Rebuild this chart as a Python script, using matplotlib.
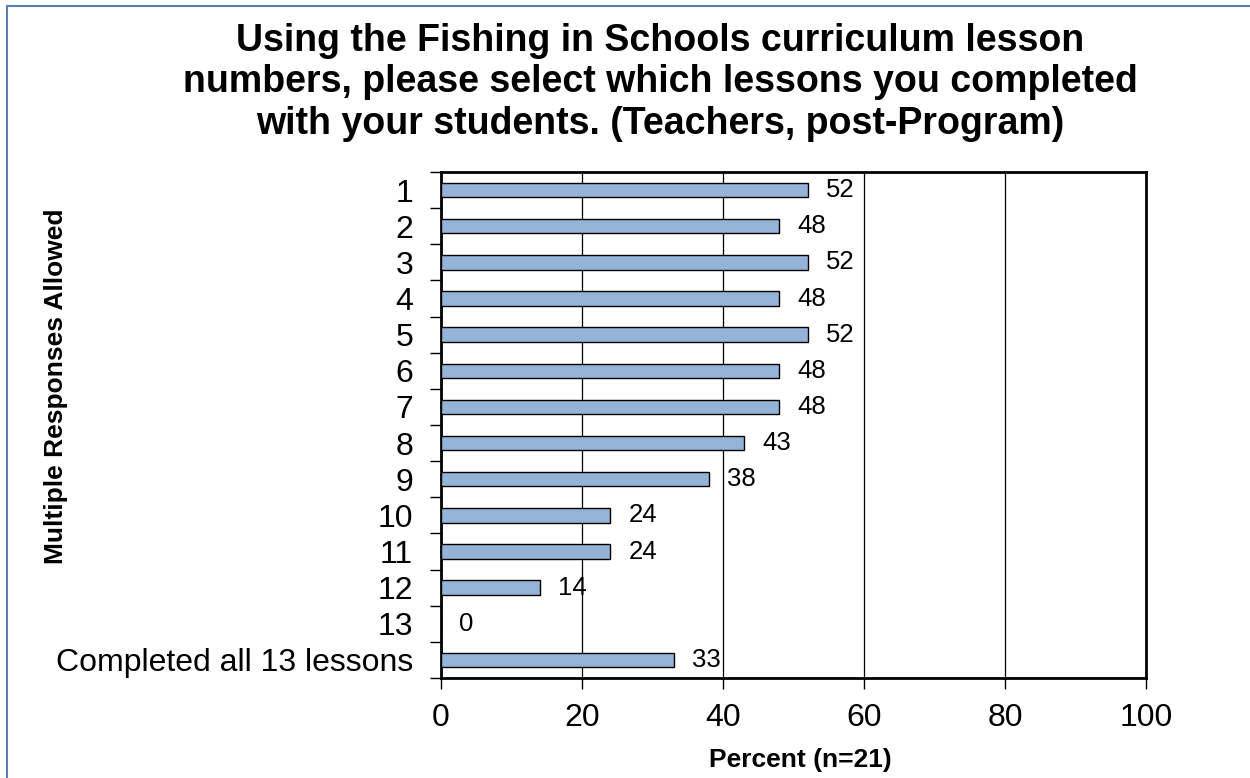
#!/usr/bin/env python3
"""
Lessons completed by teachers, post-Program (horizontal bar chart).
Writes out.png.
"""
import matplotlib
matplotlib.use('Agg')
import matplotlib.pyplot as plt
from matplotlib.lines import Line2D

lessons = ['1', '2', '3', '4', '5', '6', '7', '8', '9', '10', '11', '12', '13',
           'Completed all 13 lessons']
percent = [52, 48, 52, 48, 52, 48, 48, 43, 38, 24, 24, 14, 0, 33]
x_ticks = [0, 20, 40, 60, 80, 100]

title = ('Using the Fishing in Schools curriculum lesson\n'
         'numbers, please select which lessons you completed\n'
         'with your students. (Teachers, post-Program)')


def main():
    plt.rcParams['font.family'] = ['Liberation Sans', 'DejaVu Sans']

    fig = plt.figure(figsize=(12.5, 7.78), dpi=100)
    ax = fig.add_axes([0.3528, 0.1285, 0.9168 - 0.3528, 0.7789 - 0.1285])

    pos = list(range(len(lessons)))
    ax.barh(pos, percent, height=0.40, color='#95B3D7', edgecolor='black',
            linewidth=1.0, zorder=3)

    for y, v in zip(pos, percent):
        ax.text(v + 2.6, y, f'{v}', va='center', ha='left', fontsize=18.5,
                zorder=4)

    ax.set_xlim(0, 100)
    ax.set_ylim(len(lessons) - 0.5, -0.5)
    ax.set_xticks(x_ticks)
    ax.set_xticklabels([str(t) for t in x_ticks], fontsize=23)
    ax.xaxis.grid(True, color='black', linewidth=0.9, zorder=0)

    # category labels centred on bars, tick marks between categories
    ax.set_yticks(pos)
    ax.set_yticklabels(lessons, fontsize=23)
    ax.tick_params(axis='y', which='major', length=0, pad=20)
    ax.set_yticks([p + 0.5 for p in [-1] + pos], minor=True)
    ax.tick_params(axis='y', which='minor', length=8, width=1.0, direction='out')
    ax.tick_params(axis='x', length=8, width=1.0, direction='out', pad=10)

    for side in ['left', 'bottom', 'top', 'right']:
        ax.spines[side].set_linewidth(2.0)

    fig.text(0.640, 0.023, 'Percent (n=21)', fontsize=19, fontweight='bold',
             ha='center', va='center')
    fig.text(0.045, 0.504, 'Multiple Responses Allowed', rotation=90,
             fontsize=19, fontweight='bold', ha='center', va='center')

    fig.text(0.528, 0.894, title, ha='center', va='center', fontsize=27,
             fontweight='bold', linespacing=1.21)

    # outer frame on left and top
    frame = '#5B7FB0'
    fig.add_artist(Line2D([0.0056, 0.0056], [0, 0.992], transform=fig.transFigure,
                          color=frame, linewidth=1.5))
    fig.add_artist(Line2D([0.0056, 1.0], [0.992, 0.992], transform=fig.transFigure,
                          color=frame, linewidth=1.5))

    fig.savefig('out.png', dpi=100)
    print('Wrote out.png')


if __name__ == '__main__':
    main()
